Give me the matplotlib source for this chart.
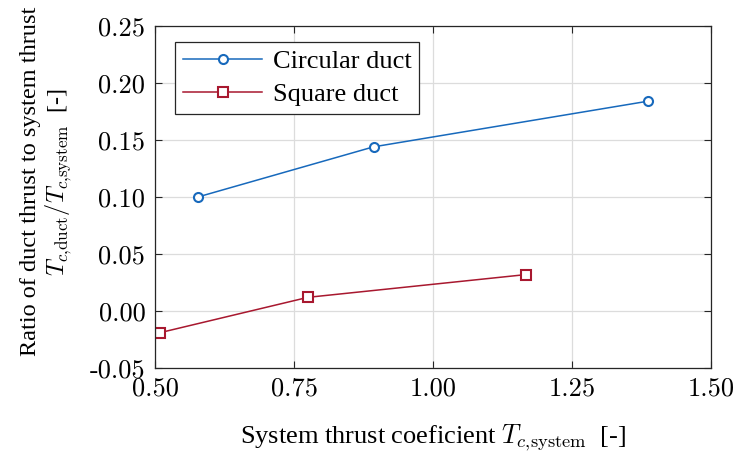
import matplotlib
matplotlib.use("Agg")
import matplotlib.pyplot as plt
from matplotlib.ticker import FixedLocator, FuncFormatter

# Data
circ_x = [0.577, 0.893, 1.386]
circ_y = [0.100, 0.144, 0.184]
sq_x = [0.509, 0.775, 1.168]
sq_y = [-0.019, 0.012, 0.032]
labels = ["Circular duct", "Square duct"]
xticks = [0.50, 0.75, 1.00, 1.25, 1.50]
yticks = [-0.05, 0.00, 0.05, 0.10, 0.15, 0.20, 0.25]

plt.rcParams['mathtext.fontset'] = 'cm'
plt.rcParams['font.family'] = ['Liberation Serif', 'DejaVu Serif']
plt.rcParams['axes.unicode_minus'] = False

fig = plt.figure(figsize=(7.41, 4.53), dpi=100)
ax = fig.add_axes([0.2092, 0.1876, 0.7503, 0.755])

blue = '#1769BC'
red = '#A8182F'
ax.plot(circ_x, circ_y, '-o', color=blue, lw=1.1, ms=6.5, mfc='white', mec=blue, mew=1.5, label=labels[0])
ax.plot(sq_x, sq_y, '-s', color=red, lw=1.1, ms=6.5, mfc='white', mec=red, mew=1.5, label=labels[1])

ax.set_xlim(0.5, 1.5)
ax.set_ylim(-0.05, 0.25)
ax.xaxis.set_major_locator(FixedLocator(xticks))
ax.yaxis.set_major_locator(FixedLocator(yticks))
fmt = FuncFormatter(lambda v, p: ('-' if v < -1e-9 else '') + f"{abs(v):.2f}")
ax.xaxis.set_major_formatter(fmt)
ax.yaxis.set_major_formatter(fmt)
for lab in ax.get_xticklabels() + ax.get_yticklabels():
    lab.set_fontfamily('cmr10')
    lab.set_fontsize(19)
ax.tick_params(direction='in', top=True, right=True, length=5, width=0.8, colors='#262626', labelcolor='black')
ax.tick_params(axis='y', pad=7)
ax.tick_params(axis='x', pad=6)
ax.grid(True, color='#dcdcdc', lw=0.9)
ax.set_axisbelow(True)
for s in ax.spines.values():
    s.set_color('#262626')
    s.set_linewidth(0.9)

ax.set_xlabel(r"System thrust coeficient $T_{c{,}\mathrm{system}}\;$ [-]", fontsize=19)
ax.xaxis.set_label_coords(0.5, -0.16)
ax.set_ylabel("Ratio of duct thrust to system thrust\n" + r"$T_{c{,}\mathrm{duct}}/T_{c{,}\mathrm{system}}\;$ [-]",
              fontsize=17.5, linespacing=1.15)
ax.yaxis.set_label_coords(-0.145, 0.545)

leg = ax.legend(loc='upper left', bbox_to_anchor=(0.036, 0.953), fontsize=19, frameon=True, fancybox=False,
                edgecolor='#262626', framealpha=1, borderpad=0.3, labelspacing=0.35, handlelength=3.0,
                handletextpad=0.4, borderaxespad=0)
leg.get_frame().set_linewidth(0.9)

fig.savefig('out.png', dpi=100)
